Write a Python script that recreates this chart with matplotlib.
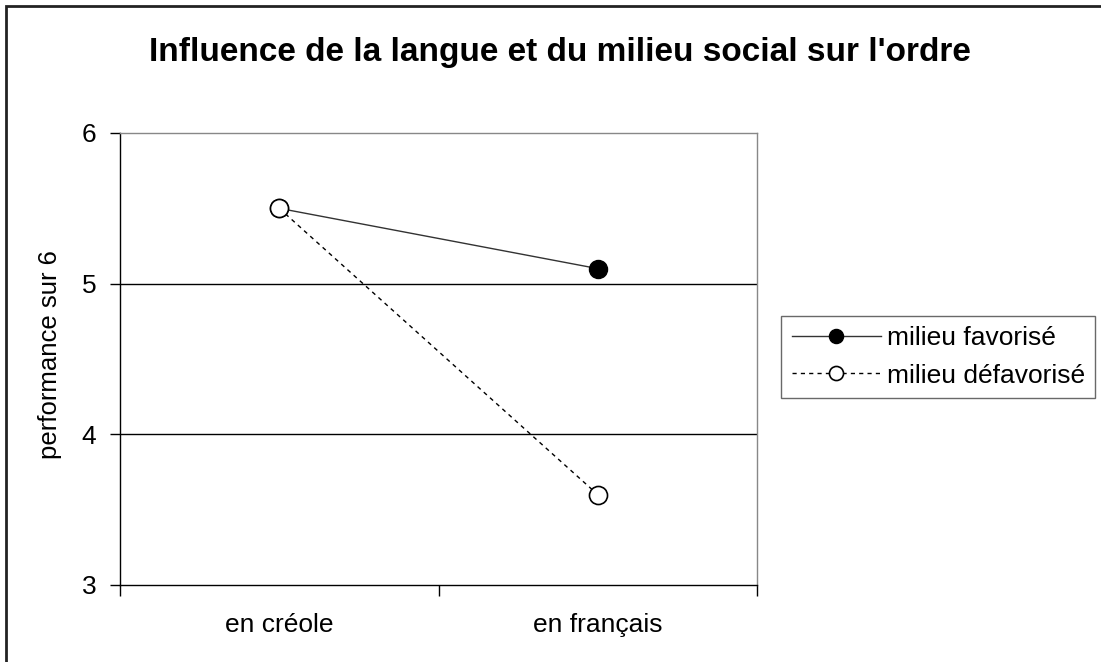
import matplotlib.pyplot as plt
from matplotlib.patches import Rectangle

plt.rcParams['font.family'] = ['Liberation Sans', 'DejaVu Sans']

categories = ["en créole", "en français"]
favorise = [5.5, 5.1]
defavorise = [5.5, 3.6]

fig = plt.figure(figsize=(11.01, 6.62), dpi=100)
ax = fig.add_axes([120 / 1101, 1 - 585 / 662, 637 / 1101, 452 / 662])

# outer chart border (Excel style)
fig.patches.append(Rectangle((6 / 1101, -0.1), 1.2, 1 - 6 / 662 + 0.1,
                             transform=fig.transFigure, fill=False,
                             ec='#222222', lw=2))

x = range(len(categories))
ax.plot(x, favorise, color='#333333', lw=1, marker='o', ms=13,
        mfc='black', mec='black', label='milieu favorisé', zorder=3)
ax.plot(x, defavorise, color='black', lw=1, ls=(0, (3, 3)), marker='o', ms=13,
        mfc='white', mec='black', mew=1.2, label='milieu défavorisé', zorder=4)

ax.set_xlim(-0.5, 1.5)
ax.set_ylim(3, 6)
ax.set_yticks([3, 4, 5, 6])
ax.set_yticklabels(['3', '4', '5', '6'], fontsize=19)
ax.set_xticks([-0.5, 0.5, 1.5])
ax.set_xticklabels([])
ax.set_xticks([0, 1], minor=True)
ax.set_xticklabels(categories, minor=True, fontsize=19)
ax.tick_params(axis='x', which='minor', length=0, pad=20)
ax.tick_params(axis='x', which='major', length=8, width=1, direction='out')
ax.tick_params(axis='y', length=7, width=1, direction='out', pad=10)

for y in [4, 5]:
    ax.axhline(y, color='black', lw=1, zorder=1)

ax.spines['top'].set_color('#888888')
ax.spines['right'].set_color('#888888')
ax.spines['left'].set_color('black')
ax.spines['bottom'].set_color('black')
for s in ax.spines.values():
    s.set_linewidth(1)

ax.set_ylabel('performance sur 6', fontsize=18.5)
ax.yaxis.set_label_coords(50 / 1101, 1 - 355 / 662, transform=fig.transFigure)
ax.yaxis.label.set_va('center')

fig.text(560 / 1101, 1 - 52 / 662, "Influence de la langue et du milieu social sur l'ordre",
         ha='center', va='center', fontsize=24, fontweight='bold')

leg = ax.legend(loc='center left', bbox_to_anchor=(781 / 1101, 1 - 357 / 662),
                bbox_transform=fig.transFigure, frameon=True, fancybox=False,
                fontsize=19, numpoints=1, handlelength=3.4, borderpad=0.4,
                labelspacing=0.5, handletextpad=0.2, borderaxespad=0,
                markerscale=0.78)
leg.get_frame().set_edgecolor('#444444')
leg.get_frame().set_linewidth(1)

fig.savefig('out.png', dpi=100)
